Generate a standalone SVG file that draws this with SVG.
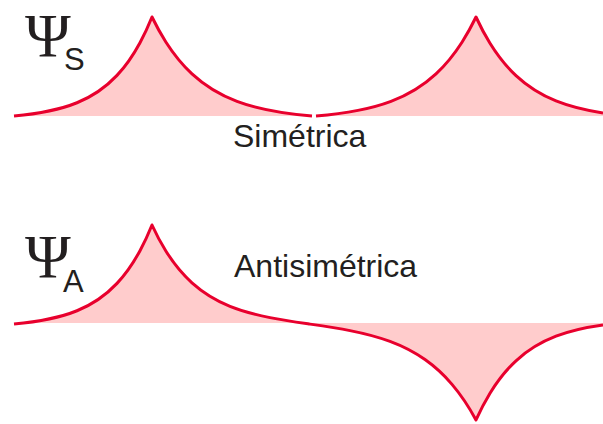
<svg xmlns="http://www.w3.org/2000/svg" width="603" height="424" viewBox="0 0 603 424">
<style>
.fill{fill:#ffcccc;stroke:none}
.curve{fill:none;stroke:#e8002d;stroke-width:3;stroke-linejoin:round;stroke-linecap:butt}
.psi{font-family:"Liberation Serif","DejaVu Serif",serif;font-size:62px;fill:#231f20;letter-spacing:-11px}
.sub{font-family:"Liberation Sans",Arial,sans-serif;font-size:31px;fill:#231f20}
.lbl{font-family:"Liberation Sans",Arial,sans-serif;font-size:32px;fill:#231f20}
</style>
<rect width="603" height="424" fill="#ffffff"/>
<g id="symmetric">
  <path class="fill" d="M14,116 C35,114.11 56,111.32 77,102.76 C90.33,97.33 103.67,89.58 117,75.39 C124.67,67.23 132.33,56.89 140,42.71 C144,35.31 148,26.86 152,17 C156.67,26.63 161.33,34.92 166,42.2 C174.67,55.72 183.33,65.8 192,73.84 C207,87.75 222,95.69 237,101.35 C262,110.78 287,113.9 312,116 L316,116 C341,113.9 366,110.78 391,101.35 C406,95.69 421,87.75 436,73.84 C444.67,65.8 453.33,55.72 462,42.2 C466.67,34.92 471.33,26.63 476,17 C480.67,27.11 485.33,35.74 490,43.28 C498.67,57.28 507.33,67.52 516,75.63 C529.33,88.1 542.67,95.55 556,100.94 C571.67,107.27 587.33,110.64 603,113 L603,116 Z"/>
  <path class="curve" d="M14,116 C35,114.11 56,111.32 77,102.76 C90.33,97.33 103.67,89.58 117,75.39 C124.67,67.23 132.33,56.89 140,42.71 C144,35.31 148,26.86 152,17 C156.67,26.63 161.33,34.92 166,42.2 C174.67,55.72 183.33,65.8 192,73.84 C207,87.75 222,95.69 237,101.35 C262,110.78 287,113.9 312,116"/>
  <path class="curve" d="M316,116 C341,113.9 366,110.78 391,101.35 C406,95.69 421,87.75 436,73.84 C444.67,65.8 453.33,55.72 462,42.2 C466.67,34.92 471.33,26.63 476,17 C480.67,27.11 485.33,35.74 490,43.28 C498.67,57.28 507.33,67.52 516,75.63 C529.33,88.1 542.67,95.55 556,100.94 C571.67,107.27 587.33,110.64 603,113"/>
  <text x="25" y="56"><tspan class="psi">Ψ</tspan><tspan class="sub" x="64" y="70">S</tspan></text>
  <text class="lbl" x="233" y="147">Simétrica</text>
</g>
<g id="antisymmetric">
  <path class="fill" d="M14,324 C35,322.11 56,319.32 77,310.76 C90.33,305.33 103.67,297.58 117,283.39 C124.67,275.23 132.33,264.89 140,250.71 C144,243.31 148,234.86 152,225 C156.67,235.29 161.33,243.83 166,251.25 C174.67,265.02 183.33,274.97 192,282.79 C204.67,294.22 217.33,301.16 230,306.29 C243.33,311.69 256.67,315 270,317.63 C283.33,320.27 296.67,322.17 310,324.11 C323.33,326.05 336.67,327.99 350,330.6 C363.33,333.21 376.67,336.46 390,341.41 C401.67,345.74 413.33,351.35 425,359.57 C434,365.91 443,373.81 452,384.35 C460,393.72 468,405.16 476,419.92 C480.67,409.61 485.33,400.81 490,393.17 C498.67,378.99 507.33,368.78 516,360.78 C529.33,348.47 542.67,341.32 556,336.21 C571.67,330.21 587.33,327.13 603,325 L603,323 L14,323 Z"/>
  <path class="curve" d="M14,324 C35,322.11 56,319.32 77,310.76 C90.33,305.33 103.67,297.58 117,283.39 C124.67,275.23 132.33,264.89 140,250.71 C144,243.31 148,234.86 152,225 C156.67,235.29 161.33,243.83 166,251.25 C174.67,265.02 183.33,274.97 192,282.79 C204.67,294.22 217.33,301.16 230,306.29 C243.33,311.69 256.67,315 270,317.63 C283.33,320.27 296.67,322.17 310,324.11 C323.33,326.05 336.67,327.99 350,330.6 C363.33,333.21 376.67,336.46 390,341.41 C401.67,345.74 413.33,351.35 425,359.57 C434,365.91 443,373.81 452,384.35 C460,393.72 468,405.16 476,419.92 C480.67,409.61 485.33,400.81 490,393.17 C498.67,378.99 507.33,368.78 516,360.78 C529.33,348.47 542.67,341.32 556,336.21 C571.67,330.21 587.33,327.13 603,325"/>
  <text x="25" y="277"><tspan class="psi">Ψ</tspan><tspan class="sub" x="63" y="292">A</tspan></text>
  <text class="lbl" x="234" y="277">Antisimétrica</text>
</g>
</svg>
